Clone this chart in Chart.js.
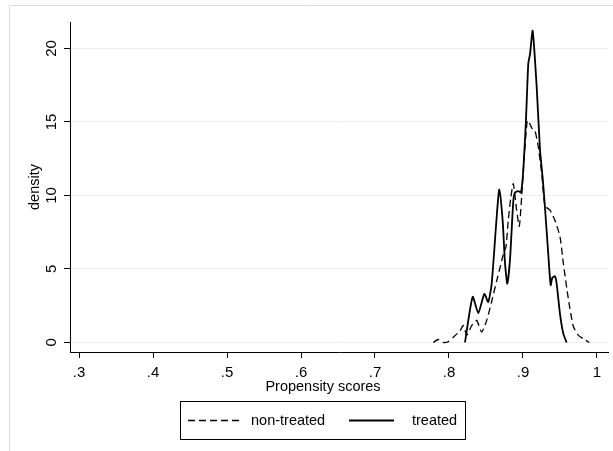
<!DOCTYPE html>
<html>
<head>
<meta charset="utf-8">
<script src="https://cdn.jsdelivr.net/npm/chart.js@4.4.1/dist/chart.umd.min.js"></script>
<style>
  body { margin: 0; background: #fff; }
  canvas { display: block; }
</style>
</head>
<body>
<canvas id="densityChart" width="613" height="451"></canvas>
<script>
// kernel density
const treatedX = [0.8216, 0.832, 0.8396, 0.8478, 0.853, 0.8577, 0.8644, 0.868, 0.8725, 0.8757, 0.8788,
  0.8824, 0.8869, 0.8892, 0.8937, 0.8973, 0.9004, 0.904, 0.9072, 0.9095, 0.9131, 0.9185, 0.923,
  0.9266, 0.9297, 0.9342, 0.9374, 0.9396, 0.9432, 0.9455, 0.95, 0.9545, 0.959];
const treatedY = [0, 3.1, 2.0, 3.3, 2.75, 4.0, 8.5, 10.4, 8.3, 5.4, 4.0,
  5.6, 9.6, 10.2, 10.3, 10.2, 11.7, 15.1, 19.0, 19.6, 21.2, 17.4, 13.1,
  11.2, 9.2, 6.0, 3.9, 4.4, 4.5, 4.0, 1.95, 0.6, 0];

const nonTreatedX = [0.7788, 0.7855, 0.7923, 0.799, 0.8058, 0.815, 0.8193, 0.824, 0.8307, 0.8374,
  0.8441, 0.851, 0.8577, 0.8645, 0.869, 0.8734, 0.877, 0.8801, 0.8834, 0.8869, 0.8914, 0.895,
  0.8982, 0.9014, 0.9058, 0.909, 0.9117, 0.9162, 0.9207, 0.9253, 0.9297, 0.9365, 0.9432, 0.95,
  0.9545, 0.9612, 0.968, 0.9747, 0.9815, 0.9896];
const nonTreatedY = [0, 0.2, 0, 0.05, 0.35, 0.8, 1.15, 0.5, 1.15, 1.5,
  0.7, 1.5, 2.8, 4.2, 5.1, 6.0, 6.5, 8.3, 9.8, 10.8, 9.0, 7.9,
  9.9, 12.4, 15.1, 14.9, 14.6, 14.4, 13.3, 11.5, 9.3, 9.0, 8.3, 7.2,
  5.4, 3.0, 1.1, 0.5, 0.25, 0];

const xTickValues = [0.3, 0.4, 0.5, 0.6, 0.7, 0.8, 0.9, 1.0];
const xTickLabels = [".3", ".4", ".5", ".6", ".7", ".8", ".9", "1"];
const yTickValues = [0, 5, 10, 15, 20];
const yTickLabels = ["0", "5", "10", "15", "20"];
const xTitle = "Propensity scores";

const FONT = "'Liberation Sans', Arial, sans-serif";

function toPoints(xs, ys) {
  return xs.map((x, i) => ({ x: x, y: ys[i] }));
}

// stata-ish frame, x title and boxed legend
const stataDecor = {
  id: "stataDecor",
  beforeDraw(chart) {
    const ctx = chart.ctx;
    ctx.save();
    ctx.fillStyle = "#fff";
    ctx.fillRect(0, 0, chart.width, chart.height);
    ctx.strokeStyle = "#dadada";
    ctx.lineWidth = 1;
    ctx.beginPath();
    ctx.moveTo(9.5, chart.height + 5);
    ctx.lineTo(9.5, 5.5);
    ctx.lineTo(chart.width + 5, 5.5);
    ctx.stroke();
    ctx.restore();
  },
  afterDraw(chart) {
    const ctx = chart.ctx;
    const sets = chart.data.datasets;
    ctx.save();
    ctx.font = "14.5px " + FONT;
    ctx.fillStyle = "#000";
    ctx.textBaseline = "middle";
    ctx.textAlign = "center";
    ctx.fillText(xTitle, 323, 386.5);

    ctx.textAlign = "left";
    ctx.strokeStyle = "#000";
    ctx.lineWidth = 1;
    ctx.strokeRect(180.5, 401.5, 285, 38);
    const midY = 420.5;

    ctx.setLineDash(sets[0].borderDash);
    ctx.lineWidth = sets[0].borderWidth;
    ctx.beginPath();
    ctx.moveTo(188, midY);
    ctx.lineTo(243, midY);
    ctx.stroke();
    ctx.setLineDash([]);
    ctx.fillText(sets[0].label, 251, midY);

    ctx.lineWidth = sets[1].borderWidth;
    ctx.beginPath();
    ctx.moveTo(349, midY);
    ctx.lineTo(394, midY);
    ctx.stroke();
    ctx.fillText(sets[1].label, 412, midY);
    ctx.restore();
  }
};

new Chart(document.getElementById("densityChart"), {
  type: "line",
  data: {
    datasets: [
      {
        label: "non-treated",
        data: toPoints(nonTreatedX, nonTreatedY),
        borderColor: "#000",
        borderWidth: 1.3,
        borderDash: [7, 4],
        tension: 0.2,
        pointRadius: 0,
        fill: false
      },
      {
        label: "treated",
        data: toPoints(treatedX, treatedY),
        borderColor: "#000",
        borderWidth: 1.8,
        tension: 0.2,
        pointRadius: 0,
        fill: false
      }
    ]
  },
  options: {
    responsive: false,
    animation: false,
    layout: { padding: { left: 0, right: 5, top: 22, bottom: 53 } },
    plugins: {
      legend: { display: false },
      tooltip: { enabled: false }
    },
    scales: {
      x: {
        type: "linear",
        min: 0.2878,
        max: 1.0149,
        afterFit: (s) => { s.height = 46; },
        afterBuildTicks: (s) => { s.ticks = xTickValues.map(v => ({ value: v })); },
        ticks: {
          color: "#000",
          font: { family: FONT, size: 15 },
          padding: 6,
          maxRotation: 0,
          callback: (v) => xTickLabels[xTickValues.findIndex(t => Math.abs(t - v) < 1e-6)]
        },
        grid: { drawOnChartArea: false, tickColor: "#000", tickLength: 6 },
        border: { color: "#000", width: 1 }
      },
      y: {
        type: "linear",
        min: -0.65,
        max: 21.8,
        afterFit: (s) => { s.width = 70; },
        afterBuildTicks: (s) => { s.ticks = yTickValues.map(v => ({ value: v })); },
        ticks: {
          color: "#000",
          font: { family: FONT, size: 15 },
          minRotation: 90,
          maxRotation: 90,
          crossAlign: "center",
          padding: 4,
          callback: (v) => yTickLabels[yTickValues.indexOf(v)]
        },
        grid: { color: "#e7eef0", lineWidth: 1, tickColor: "#000", tickLength: 6 },
        border: { color: "#000", width: 1 },
        title: {
          display: true,
          text: "density",
          color: "#000",
          font: { family: FONT, size: 14.5 },
          padding: { top: 26, bottom: 0 }
        }
      }
    }
  },
  plugins: [stataDecor]
});
</script>
</body>
</html>
